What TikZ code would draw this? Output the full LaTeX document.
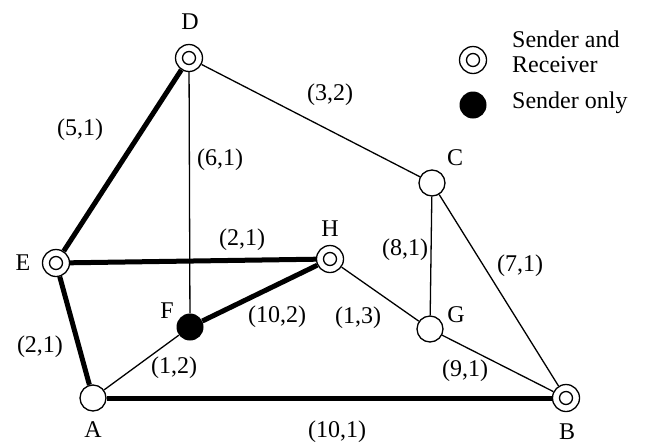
\documentclass[tikz,border=0pt]{standalone}
\usepackage{fontspec}
\setmainfont{Liberation Serif}
\usetikzlibrary{positioning}

\begin{document}
\begin{tikzpicture}[x=1pt, y=-1pt,
  font=\fontsize{24}{25}\selectfont,
  both/.style={circle, draw, fill=white, line width=1.3pt, minimum size=27pt, inner sep=0pt,
    path picture={\draw[line width=1.3pt] (path picture bounding box.center) circle (6.5pt);}},
  relay/.style={circle, draw, fill=white, line width=1.3pt, minimum size=26pt, inner sep=0pt},
  src/.style={circle, fill=black, minimum size=27pt, inner sep=0pt},
  link/.style={line width=1.3pt},
  tree/.style={line width=5pt},
  cost/.style={inner sep=1pt}
]
\useasboundingbox (0,0) rectangle (647,445);

% routers
\node[both]  (D) at (189,58)  {};
\node[relay] (C) at (432,183) {};
\node[both]  (E) at (56,263)  {};
\node[both]  (H) at (330,259) {};
\node[src]   (F) at (190,327) {};
\node[relay] (G) at (430,329) {};
\node[relay] (A) at (93,398)  {};
\node[both]  (B) at (566,398) {};

% router names
\node (Dname) at (190,22)  {D};
\node (Cname) at (455,158) {C};
\node (Ename) at (23,263)  {E};
\node (Hname) at (330,229) {H};
\node (Fname) at (167,311) {F};
\node (Gname) at (456,315) {G};
\node (Aname) at (93,430)  {A};
\node (Bname) at (567,432) {B};

% links
\draw[link] (D) -- (C);
\draw[link] (D) -- (F);
\draw[link] (C) -- (G);
\draw[link] (C) -- (B);
\draw[link] (H) -- (G);
\draw[link] (G) -- (B);
\draw[link] (A) -- (F);
\draw[tree] (D) -- (E);
\draw[tree] (E) -- (H);
\draw[tree] (F) -- (H);
\draw[tree] (E) -- (A);
\draw[tree] (A) -- (B);

% link costs
\node[cost] (cDC) at (330,95)  {(3,2)};
\node[cost] (cDE) at (80,130)  {(5,1)};
\node[cost] (cDF) at (220,160) {(6,1)};
\node[cost] (cEH) at (242,240) {(2,1)};
\node[cost] (cFH) at (277,317) {(10,2)};
\node[cost] (cHG) at (358,318) {(1,3)};
\node[cost] (cCG) at (405,250) {(8,1)};
\node[cost] (cCB) at (520,266) {(7,1)};
\node[cost] (cGB) at (465,371) {(9,1)};
\node[cost] (cEA) at (40,347)  {(2,1)};
\node[cost] (cAF) at (174,368) {(1,2)};
\node[cost] (cAB) at (337,432) {(10,1)};

% legend
\node[both] (keyboth) at (473,60)  {};
\node[src]  (keysrc)  at (473,105) {};
\node[anchor=west, align=left, inner sep=0pt] (keybothtext) at (512,52) {Sender and\\Receiver};
\node[anchor=west, inner sep=0pt] (keysrctext) at (512,103) {Sender only};
\end{tikzpicture}
\end{document}
